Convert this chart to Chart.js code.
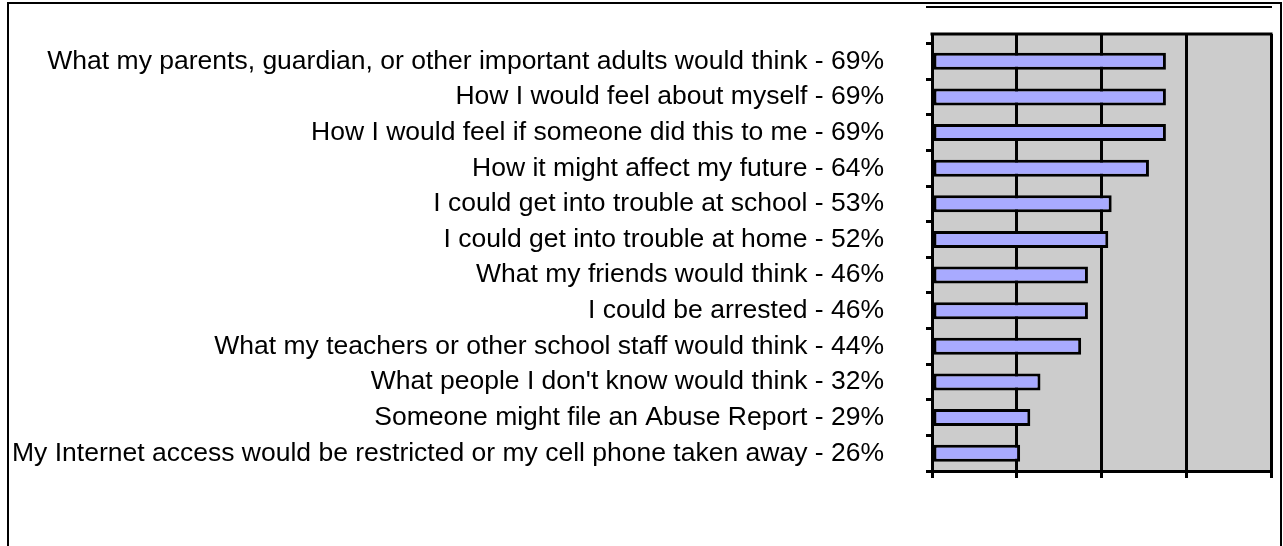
<!DOCTYPE html>
<html>
<head>
<meta charset="utf-8">
<script src="https://cdn.jsdelivr.net/npm/chart.js@4/dist/chart.umd.min.js"></script>
<style>
  html, body { margin: 0; padding: 0; background: #fff; }
  #wrap { width: 1283px; height: 546px; }
</style>
</head>
<body>
<div id="wrap"><canvas id="c" width="1283" height="546"></canvas></div>
<script>
// Reasons students gave for thinking twice before acting online
const categories = [
  "What my parents, guardian, or other important adults would think",
  "How I would feel about myself",
  "How I would feel if someone did this to me",
  "How it might affect my future",
  "I could get into trouble at school",
  "I could get into trouble at home",
  "What my friends would think",
  "I could be arrested",
  "What my teachers or other school staff would think",
  "What people I don't know would think",
  "Someone might file an Abuse Report",
  "My Internet access would be restricted or my cell phone taken away"
];
const percentValues = [69, 69, 69, 64, 53, 52, 46, 46, 44, 32, 29, 26];
const xTickValues = [0, 25, 50, 75, 100];

const rowLabels = categories.map((c, i) => c + " - " + percentValues[i] + "%");

const PLOT_BG = "#cccccc";
const BAR_FILL = "#a8aaff";
const TOP_BAND = 9.5;
const GRID_W = 3;

// snap a line centre the same way the library does for crisp strokes
const alignPx = (p, w) => Math.round(p - w / 2) + w / 2;

// Plot background, the strip above the rows, and the outer frame
const framePlugin = {
  id: "frame",
  beforeDraw(chart) {
    const { ctx, chartArea: a } = chart;
    ctx.save();
    ctx.fillStyle = "#fff";
    ctx.fillRect(0, 0, chart.width, chart.height);
    ctx.fillStyle = PLOT_BG;
    ctx.fillRect(a.left, a.top - TOP_BAND, a.right - a.left, a.bottom - a.top + TOP_BAND);
    ctx.restore();
  },
  afterDraw(chart) {
    const { ctx, chartArea: a, scales } = chart;
    ctx.save();
    ctx.strokeStyle = "#000";
    // grid lines carried up through the top strip
    ctx.lineWidth = GRID_W;
    xTickValues.forEach(v => {
      const x = alignPx(scales.x.getPixelForValue(v), GRID_W);
      ctx.beginPath();
      ctx.moveTo(x, a.top - TOP_BAND);
      ctx.lineTo(x, a.top + 1);
      ctx.stroke();
    });
    // top edge of the plot
    ctx.lineWidth = 3;
    ctx.beginPath();
    ctx.moveTo(a.left - 1.5, a.top - TOP_BAND);
    ctx.lineTo(a.right + 1.5, a.top - TOP_BAND);
    ctx.stroke();
    // thin rule above the plot
    ctx.lineWidth = 2;
    ctx.beginPath();
    ctx.moveTo(a.left - 6, 7);
    ctx.lineTo(a.right + 1, 7);
    ctx.stroke();
    // outer frame
    ctx.beginPath();
    ctx.moveTo(8, chart.height);
    ctx.lineTo(8, 3);
    ctx.lineTo(1281, 3);
    ctx.lineTo(1281, chart.height);
    ctx.stroke();
    ctx.restore();
  }
};

new Chart(document.getElementById("c"), {
  type: "bar",
  data: {
    labels: rowLabels,
    datasets: [{
      data: percentValues,
      backgroundColor: BAR_FILL,
      borderColor: "#000",
      borderWidth: 3,
      borderSkipped: false,
      categoryPercentage: 1,
      barPercentage: 0.48
    }]
  },
  options: {
    indexAxis: "y",
    responsive: false,
    animation: false,
    devicePixelRatio: 1,
    layout: { padding: { top: 43.5, right: 12, bottom: 0, left: 0 } },
    plugins: { legend: { display: false }, tooltip: { enabled: false } },
    scales: {
      x: {
        type: "linear",
        min: 0,
        max: 100,
        afterBuildTicks(scale) { scale.ticks = xTickValues.map(v => ({ value: v })); },
        ticks: { callback: () => "" },
        grid: { color: "#000", lineWidth: GRID_W, tickLength: 7, drawTicks: true },
        border: { display: true, color: "#000", width: 3 },
        afterFit(scale) {
          scale.height = 546 - 471;
          scale.paddingLeft = 0;
          scale.paddingRight = 0;
        }
      },
      y: {
        type: "category",
        offset: true,
        ticks: {
          color: "#000",
          font: { family: "'Liberation Sans', Arial, sans-serif", size: 26.5 },
          padding: 42,
          autoSkip: false
        },
        grid: { offset: true, drawOnChartArea: false, color: "#000", lineWidth: GRID_W, tickLength: 6 },
        border: { display: true, color: "#000", width: 3 },
        afterFit(scale) {
          scale.width = 932;
          scale.paddingTop = 0;
          scale.paddingBottom = 0;
        }
      }
    }
  },
  plugins: [framePlugin]
});
</script>
</body>
</html>
